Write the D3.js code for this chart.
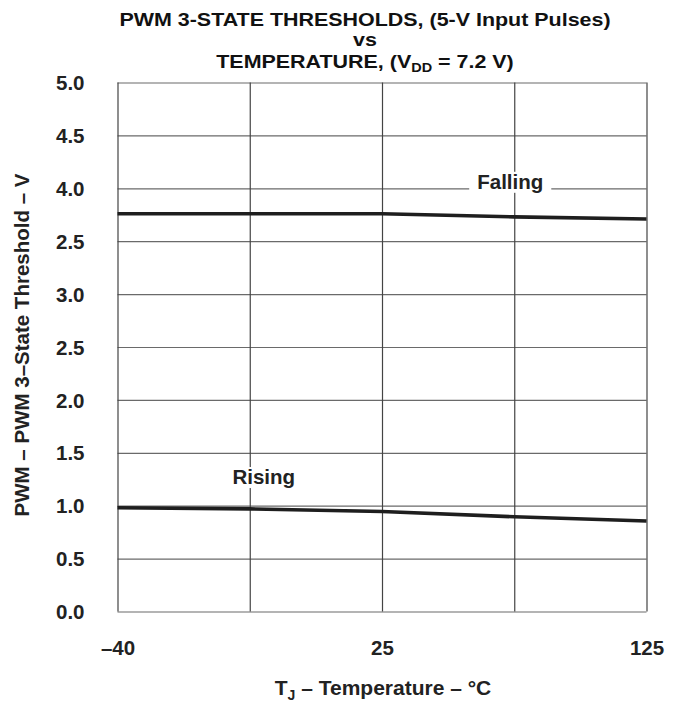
<!DOCTYPE html>
<html>
<head>
<meta charset="utf-8">
<script src="https://cdn.jsdelivr.net/npm/d3@7.9.0/dist/d3.min.js"></script>
<style>
  body { margin: 0; background: #fff; }
  svg { display: block; font-family: "Liberation Sans", Arial, sans-serif; font-weight: bold; }
  .grid line { stroke: #6a6a6a; stroke-width: 1.2; }
  .grid path { display: none; }
  .axis path, .axis line { display: none; }
  .axis text { fill: #222; font-size: 20.5px; font-weight: bold; }
</style>
</head>
<body>
<svg id="chart" width="676" height="702"></svg>
<script>
// temperatures (°C) at the vertical grid lines
const temps = [-40, -7.5, 25, 75, 125];
const xTickValues = [-40, 25, 125];
// PWM 3-state thresholds (V)
const falling = [3.76, 3.76, 3.76, 3.73, 3.71];
const rising = [0.98, 0.97, 0.945, 0.895, 0.855];
const yTickValues = [0, 0.5, 1, 1.5, 2, 2.5, 3, 3.5, 4, 4.5, 5];
// labels as printed on the original (3.5 is printed "2.5")
const yTickLabels = ['0.0', '0.5', '1.0', '1.5', '2.0', '2.5', '3.0', '2.5', '4.0', '4.5', '5.0'];

const svg = d3.select('#chart');
const margin = { top: 82.5, right: 29.5, bottom: 90.5, left: 117.5 };
const width = 676 - margin.left - margin.right;
const height = 702 - margin.top - margin.bottom;

const x = d3.scaleLinear().domain([-40, 25, 125]).range([0, width / 2, width]);
const y = d3.scaleLinear().domain([0, 5]).range([height, 0]);

const g = svg.append('g').attr('transform', `translate(${margin.left},${margin.top})`);

// grid
g.append('g')
  .attr('class', 'grid')
  .call(d3.axisLeft(y).tickValues(yTickValues).tickSize(-width).tickFormat(''));
g.append('g')
  .attr('class', 'grid')
  .attr('transform', `translate(0,${height})`)
  .call(d3.axisBottom(x).tickValues(temps).tickSize(height).tickFormat(''))
  .selectAll('line')
  .attr('y2', -height)
  .style('stroke', '#444');

// axes labels
g.append('g')
  .attr('class', 'axis')
  .attr('transform', 'translate(-30,0)')
  .call(d3.axisLeft(y).tickValues(yTickValues).tickSize(0).tickFormat((d, i) => yTickLabels[i]))
  .selectAll('text')
  .attr('dy', '0.35em');

g.append('g')
  .attr('class', 'axis')
  .attr('transform', `translate(0,${height + 26})`)
  .call(d3.axisBottom(x).tickValues(xTickValues).tickSize(0).tickFormat((d) => d < 0 ? '\u2013' + Math.abs(d) : d))
  .selectAll('text')
  .attr('dy', '0.71em');

// curve labels with white knock-out
function curveLabel(text, cx, cy, padX) {
  const t = g.append('text')
    .attr('x', cx)
    .attr('y', cy)
    .attr('text-anchor', 'middle')
    .attr('fill', '#222')
    .attr('font-size', 20.5)
    .text(text);
  const b = t.node().getBBox();
  g.insert('rect', () => t.node())
    .attr('x', b.x - padX)
    .attr('y', b.y + 2)
    .attr('width', b.width + padX * 2)
    .attr('height', b.height - 2)
    .attr('fill', '#fff');
}
curveLabel('Falling', x(75) - 4, y(4) + 0.5, 8);
curveLabel('Rising', x(-7.5) + 14, y(1.2) - 0.5, 3);

// curves
const line = d3.line()
  .x((d) => x(d[0]))
  .y((d) => y(d[1]));

[falling, rising].forEach((series) => {
  g.append('path')
    .datum(temps.map((t, i) => [t, series[i]]))
    .attr('d', line)
    .attr('fill', 'none')
    .attr('stroke', '#1e1e1e')
    .attr('stroke-width', 3.6);
});

// title (slightly stretched to match the condensed original)
const title = svg.append('g')
  .attr('transform', 'translate(365,0) scale(1.16,1)')
  .attr('text-anchor', 'middle')
  .attr('fill', '#111')
  .attr('font-size', 18.5);
title.append('text').attr('x', 0).attr('y', 26.5).text('PWM 3-STATE THRESHOLDS, (5-V Input Pulses)');
title.append('text').attr('x', 0).attr('y', 46.5).text('vs');
const t3 = title.append('text').attr('x', 0).attr('y', 68);
t3.append('tspan').text('TEMPERATURE, (V');
t3.append('tspan').attr('font-size', 12.5).attr('dy', 4.5).text('DD');
t3.append('tspan').attr('dy', -4.5).text(' = 7.2 V)');

// y axis title
svg.append('text')
  .attr('transform', 'translate(29,345) rotate(-90)')
  .attr('text-anchor', 'middle')
  .attr('fill', '#222')
  .attr('font-size', 20.5)
  .text('PWM \u2013 PWM 3\u2013State Threshold \u2013 V');

// x axis title
const xt = svg.append('text')
  .attr('x', 383)
  .attr('y', 695)
  .attr('text-anchor', 'middle')
  .attr('fill', '#222')
  .attr('font-size', 21);
xt.append('tspan').text('T');
xt.append('tspan').attr('font-size', 14).attr('dy', 5).text('J');
xt.append('tspan').attr('dy', -5).text(' \u2013 Temperature \u2013 \u00b0C');
</script>
</body>
</html>
